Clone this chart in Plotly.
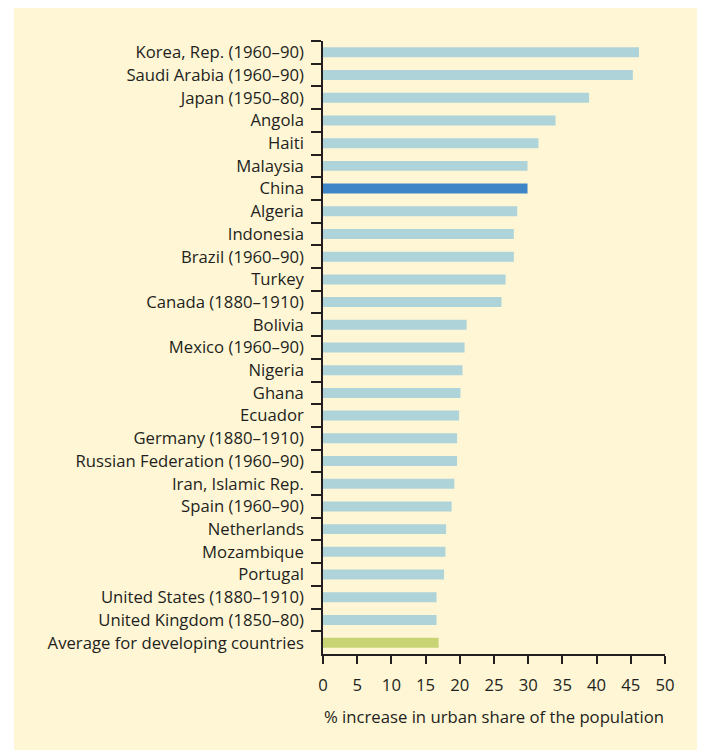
import plotly.graph_objects as go

categories = [
    "Korea, Rep. (1960–90)", "Saudi Arabia (1960–90)", "Japan (1950–80)", "Angola",
    "Haiti", "Malaysia", "China", "Algeria", "Indonesia", "Brazil (1960–90)", "Turkey",
    "Canada (1880–1910)", "Bolivia", "Mexico (1960–90)", "Nigeria", "Ghana", "Ecuador",
    "Germany (1880–1910)", "Russian Federation (1960–90)", "Iran, Islamic Rep.",
    "Spain (1960–90)", "Netherlands", "Mozambique", "Portugal",
    "United States (1880–1910)", "United Kingdom (1850–80)",
    "Average for developing countries",
]
values = [46.2, 45.3, 38.9, 34.0, 31.5, 29.9, 29.9, 28.4, 27.9, 27.9, 26.7, 26.1,
          21.0, 20.7, 20.4, 20.1, 19.9, 19.6, 19.6, 19.2, 18.8, 18.0, 17.9, 17.7,
          16.6, 16.6, 16.9]
x_ticks = [0, 5, 10, 15, 20, 25, 30, 35, 40, 45, 50]

BLUE = "#AED4DA"
HIGHLIGHT = "#3D85C6"
AVG = "#C8D373"
colors = []
for c in categories:
    if c == "China":
        colors.append(HIGHLIGHT)
    elif c.startswith("Average"):
        colors.append(AVG)
    else:
        colors.append(BLUE)

fig = go.Figure(go.Bar(
    x=values, y=categories, orientation="h",
    marker=dict(color=colors, line=dict(width=0)),
    width=0.44,
))

# page body adds an 8px offset; compensate
OFF = 8
W, H = 705, 750
ml, mr, mt, mb = 323 - OFF, 705 - (665 - OFF), 41 - OFF, 750 - (654 - OFF)
pw = W - ml - mr
ph = H - mt - mb

def px_x(p):
    return (p - OFF - ml) / pw

def px_y(p):
    return (H - mb - (p - OFF)) / ph

fig.add_shape(type="rect", xref="paper", yref="paper",
              x0=px_x(14), x1=px_x(700), y0=px_y(800), y1=px_y(7),
              fillcolor="#FFF6D5", line=dict(width=0), layer="below")

font_family = "Open Sans, sans-serif"
ink = "#231F20"

fig.update_layout(
    width=W, height=H,
    margin=dict(l=ml, r=mr, t=mt, b=mb),
    paper_bgcolor="white",
    plot_bgcolor="rgba(0,0,0,0)",
    showlegend=False,
    font=dict(family=font_family, size=16.7, color=ink),
    xaxis=dict(
        range=[0, 50], tickvals=x_ticks, ticktext=[str(t) for t in x_ticks],
        showgrid=False, zeroline=False,
        showline=True, linecolor=ink, linewidth=1.5,
        ticks="outside", ticklen=8, tickwidth=1.5, tickcolor=ink,
        tickfont=dict(size=16.7), ticklabelstandoff=7,
        title=dict(text="% increase in urban share of the population",
                   font=dict(size=16.7), standoff=17),
    ),
    yaxis=dict(
        categoryorder="array", categoryarray=categories, autorange="reversed",
        showgrid=False, zeroline=False,
        showline=True, linecolor=ink, linewidth=1.5,
        ticks="outside", ticklen=10, tickwidth=1.5, tickcolor=ink,
        tickson="boundaries", tickfont=dict(size=16.7),
        ticklabelstandoff=14,
    ),
)

fig.write_html("out.html")
